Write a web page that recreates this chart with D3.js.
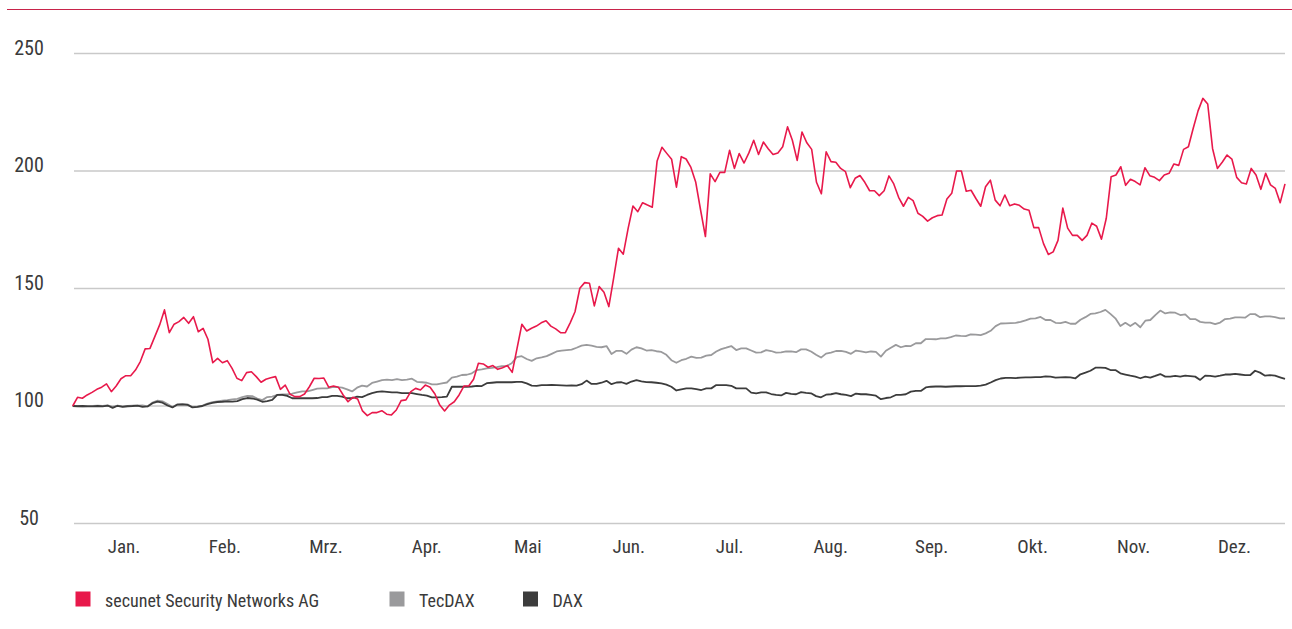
<!DOCTYPE html>
<html><head><meta charset="utf-8">
<script src="https://cdn.jsdelivr.net/npm/d3@7"></script>
<style>
html,body{margin:0;padding:0;background:#fff;}
svg{display:block;}
text{font-family:"Liberation Sans Narrow","Arial Narrow","Roboto Condensed","DejaVu Sans Condensed",sans-serif;fill:#3a3a3a;}
</style></head><body>
<svg id="chart" width="1292" height="629"></svg>
<script>
const months = ["Jan.","Feb.","Mrz.","Apr.","Mai","Jun.","Jul.","Aug.","Sep.","Okt.","Nov.","Dez."];
const yTicks = [50,100,150,200,250];
const seriesNames = ["secunet Security Networks AG","TecDAX","DAX"];

const secunet = [100,103.7,103.3,104.7,105.8,107.1,108,109.4,106.1,108.5,
111.6,112.9,112.9,115.3,118.9,124.3,124.5,129.5,134.5,140.9,
131.2,134.8,135.9,137.7,135.2,138,131.6,133,128.4,118.4,
120.3,118.4,119.3,116,111.8,110.8,114.2,114.6,112.5,110.1,
111.4,112,
112.5,107.1,108.9,105,104,104,105.1,108.2,111.8,111.7,111.9,108,108.5,108,104.7,101.8,103.7,103,97.9,95.9,97.2,97.2,98,96.5,96.2,98.3,102.3,102.6,106.1,107.5,106.8,108.9,108,105.1,100.4,97.9,100.4,101.8,104.7,108.5,108.5,111.4,118.2,
117.9,116.5,117.2,115.6,116.3,117.2,114.3,124.5,134.8,131.9,133.1,134,135.4,136.3,134,132.8,131.2,131.2,135.4,140.1,150.1,152.5,152.2,142.6,150.8,148.4,142.3,154.4,167.1,164.6,175.6,185.1,182.7,186.5,185.5,184.6,204.3,210.1,207.5,205,193.1,206.1,205.1,201.5,
195.2,183.4,172.1,198.8,195.5,199.4,199.4,208.8,201.1,207.4,203.4,207.7,213.1,207,212.3,209.5,207,207.7,210.3,218.8,213.1,204.5,216.6,212,209.2,195.2,190.3,208.2,204,203.7,201.1,199.7,192.9,196.9,198.1,195.2,191.6,191.6,189.5,191.6,197.9,194.5,188.8,
185,188.8,187.4,182,180.7,178.7,180.1,181,181.3,188.1,190.5,200,200,191.4,191.8,188.3,185,193.3,196.1,187.6,185.2,189.8,185.2,186,185.4,183.8,183.3,175.9,175.9,169.1,164.5,165.6,170.5,184.2,175.7,172.6,172.6,170.5,172.6,177.8,176.5,171,
179.9,197.6,198.3,201.8,193.9,196.5,195.5,194.1,201.4,198,197.3,195.9,198.3,199,203,202.4,209.2,210.3,218.2,225.6,230.9,228.5,209.6,201.1,203.7,206.8,205.1,197.3,195,194.5,201.1,198.3,192.2,199,194.1,192.6,186.5,194.5];

const tecdax = [100,100,99.9,100,100,100.2,100,100.3,99.6,100.2,99.8,100,100.2,100.1,100.3,99.8,101.5,102.3,102,100.8,99.6,100.7,100.8,100.7,99.5,99.7,100.2,101,101.6,102,102.3,102.5,102.8,103,103.8,104.3,104.2,103.2,102.5,103.8,
104,104.7,104.9,104.9,105.3,105.8,106.2,106.2,106.8,107.4,107.5,107.5,108,108,107.8,107.1,106.2,107.8,108.7,108.3,109.8,110.4,111,111.2,111,111.4,111,111.2,111.6,110.3,110.1,109.9,109.2,109.2,109.6,110,112.1,112.5,113.2,113.3,113.9,115.3,
115.6,116,116.2,116.5,117,117,118.2,120.8,121.2,120,119.2,120.3,120.7,121.2,122.2,123.2,123.6,123.8,124,124.8,125.7,126,125.7,125.2,125,125.5,122.1,123.5,123.5,122.2,124,125,124.5,123.6,123.8,123.3,123,121.8,119.5,118.4,119.5,120.1,
121,120.5,120.6,121.4,121.7,123.2,124.2,124.8,125.5,123.8,124.5,124.5,123.6,122.7,122.8,123.8,123.4,122.7,122.8,123.2,123.2,122.9,124.1,124.1,123.2,121.8,120.6,122.3,122.7,123.4,123.5,123,122.2,123.6,123.2,122.8,123.2,123,121,123.5,124.8,126,
125,125.6,125.5,126.7,126.7,128.5,128.5,128.4,128.8,128.8,129.3,130,129.8,129.7,130.5,130.4,130.2,130.9,132,134,135.1,135.2,135.3,135.4,135.8,136.4,137.2,137.3,137.9,136.6,136.6,135.4,135.3,135.8,135,135,136.7,137.8,139.2,139.4,140,
140.9,139.2,137.3,134,135.4,134,135.4,133.5,136.3,136.6,138.7,140.6,139.4,139.8,139.7,138.7,139,137,137,135.8,135.5,135.5,134.8,135.5,137,137.2,137.7,137.7,137.6,139.1,139.1,137.8,138.1,138.1,137.8,137.3,137.3];

const dax = [100,99.9,100,99.8,99.8,100,99.8,100.2,99.2,100.1,99.6,99.9,100,100.2,99.6,99.8,101.2,101.9,101.4,100.2,99.4,100.6,100.7,100.5,99.4,99.6,100,100.8,101.3,101.7,101.8,102,101.9,102.1,102.9,103.4,103.2,102.7,101.8,102.1,
102.6,104.7,104.7,104.3,103.3,103.3,103.3,103.3,103.3,103.4,103.8,103.8,104.3,104.3,104,103.3,103.3,104,103.8,104.7,105.5,106,106.2,106,105.8,105.8,105.5,105.5,105.5,105.1,104.7,104.4,103.7,103.7,103.8,104,108.2,108.2,108.2,108.2,108.3,108.6,
108.5,109.7,109.9,110.1,110.1,110.1,110.1,110.3,110.3,109.6,108.7,108.6,108.9,108.9,109,108.9,108.8,108.7,108.8,108.7,109.3,110.8,109.4,109.4,109.9,110.7,109.3,110,110.1,109.4,110.4,111,110.5,110.2,110.1,109.9,109.6,109.1,108.2,106.6,107.1,107.5,
107.5,107.2,106.8,107.5,107.5,108.9,108.9,108.9,108.6,107.5,107.5,107.5,105.7,105.4,105.8,105.8,105.1,104.7,104.5,105.6,105.2,105,105.9,105.6,105.4,104.2,103.7,104.8,105,105.5,105,104.7,104.2,105.3,105,105,104.7,104.4,102.9,103.4,103.7,104.7,
104.7,105,106.1,106.4,106.4,107.9,108.2,108.3,108.3,108.2,108.3,108.4,108.4,108.5,108.5,108.5,108.7,109.1,110,111,111.7,112,112,111.9,112.1,112.2,112.2,112.3,112.3,112.6,112.5,112.1,112.2,112.3,112.2,111.8,113.5,114.2,115,116.3,116.3,
116.2,115.3,115.3,113.9,113.4,112.9,112.5,111.8,112.5,112.1,112.8,113.6,112.5,112.5,112.8,112.5,112.9,112.7,112.5,111.1,112.9,112.8,112.5,112.9,113.4,113.4,113.7,113.4,113.1,113.1,115,114.2,112.9,113.1,112.9,112.2,111.5];

const colors = ["#e8194b","#9a9a9c","#3c3c3c"];

const svg = d3.select("#chart");
const X0 = 72.7, X1 = 1285;
const y = d3.scaleLinear().domain([50,250]).range([523.5,53.5]);
const xm = d3.scaleBand().domain(months).range([73.5,1285]);

// top rule
svg.append("line").attr("x1",7).attr("x2",1292).attr("y1",9.5).attr("y2",9.5)
  .attr("stroke","#c8234a").attr("stroke-width",1.2);

// grid
const gy = svg.append("g");
gy.selectAll("line").data(yTicks).join("line")
  .attr("x1",74).attr("x2",1285)
  .attr("y1",d=>y(d)).attr("y2",d=>y(d))
  .attr("stroke","#c9c9c9").attr("stroke-width",1.5);
gy.selectAll("text").data(yTicks).join("text")
  .attr("x",29).attr("y",d=>y(d)+1)
  .attr("text-anchor","middle")
  .style("font-size","20px")
  .text(d=>d);

// month axis
const ax = svg.append("g").attr("transform","translate(0,553)")
  .call(d3.axisBottom(xm).tickSize(0).tickPadding(0));
ax.select(".domain").remove();
ax.selectAll("text").attr("dy",0).attr("y",0)
  .style("font-size","19px").attr("fill","#3a3a3a");

// lines
function drawLine(data,color,w){
  const x = d3.scaleLinear().domain([0,data.length-1]).range([X0,X1]);
  const line = d3.line().x((d,i)=>x(i)).y(d=>y(d));
  svg.append("path").datum(data).attr("d",line)
    .attr("fill","none").attr("stroke",color).attr("stroke-width",w)
    .attr("stroke-linejoin","round");
}
drawLine(tecdax,colors[1],1.8);
drawLine(dax,colors[2],1.8);
drawLine(secunet,colors[0],1.6);

// legend
const legX = [75.5,389.5,523];
const lg = svg.append("g");
seriesNames.forEach((n,i)=>{
  lg.append("rect").attr("x",legX[i]).attr("y",591.5).attr("width",15).attr("height",15).attr("fill",colors[i]);
  lg.append("text").attr("x",legX[i]+29.5).attr("y",606.5).style("font-size","18px").text(n);
});
</script>
</body></html>
